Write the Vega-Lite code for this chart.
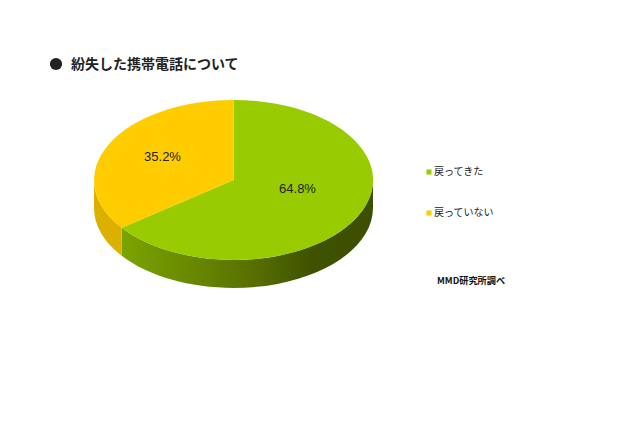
{
  "$schema": "https://vega.github.io/schema/vega-lite/v6.json",
  "description": "Lost mobile phones, 3D style pie",
  "width": 640,
  "height": 426,
  "padding": 0,
  "autosize": "none",
  "background": "white",
  "title": {
    "text": "紛失した携帯電話について",
    "anchor": "start",
    "frame": "group",
    "orient": "top",
    "baseline": "alphabetic",
    "offset": 0,
    "dx": 71,
    "dy": 83,
    "font": "Noto Sans CJK JP",
    "fontSize": 14,
    "fontWeight": "bold",
    "color": "#222222"
  },
  "data": {
    "values": [
      {"answer": "戻ってきた", "share": 64.8, "label": "64.8%"},
      {"answer": "戻っていない", "share": 35.2, "label": "35.2%"}
    ]
  },
  "encoding": {
    "x": {"datum": 233.5, "type": "quantitative", "scale": {"domain": [0, 640]}, "axis": null},
    "y": {"datum": 180, "type": "quantitative", "scale": {"domain": [426, 0]}, "axis": null},
    "color": {
      "field": "answer",
      "type": "nominal",
      "scale": {
        "domain": ["戻ってきた", "戻っていない"],
        "range": ["#99cc00", "#ffcc00"]
      },
      "legend": {
        "title": null,
        "orient": "none",
        "legendX": 424,
        "legendY": 167,
        "symbolType": "square",
        "symbolSize": 26,
        "symbolOpacity": 1,
        "labelFont": "Noto Sans CJK JP",
        "labelFontSize": 10,
        "labelColor": "#222222",
        "labelOffset": 0,
        "rowPadding": 31
      }
    }
  },
  "layer": [
    {
      "transform": [{"filter": "datum.share > 50"}],
      "mark": {
        "type": "point",
        "filled": true,
        "opacity": 1,
        "size": 4,
        "shape": "M139.5,0 A139.5,80 0 0 1 -111.8,47.8 L-111.8,75.8 A139.5,80 0 0 0 139.5,28 Z",
        "fill": {
          "gradient": "linear",
          "x1": 0, "y1": 0, "x2": 1, "y2": 0,
          "stops": [
            {"offset": 0, "color": "#7ba400"},
            {"offset": 0.5, "color": "#5a7200"},
            {"offset": 0.75, "color": "#3f5200"},
            {"offset": 1, "color": "#3d4f00"}
          ]
        }
      },
      "encoding": {"color": {"value": null}}
    },
    {
      "transform": [{"filter": "datum.share < 50"}],
      "mark": {
        "type": "point",
        "filled": true,
        "opacity": 1,
        "size": 4,
        "shape": "M-111.8,47.8 A139.5,80 0 0 1 -139.5,0 L-139.5,28 A139.5,80 0 0 0 -111.8,75.8 Z",
        "fill": "#dcb000"
      },
      "encoding": {"color": {"value": null}}
    },
    {
      "transform": [{"filter": "datum.share > 50"}],
      "mark": {
        "type": "point",
        "filled": true,
        "opacity": 1,
        "size": 4,
        "shape": "M0,0 L0,-80 A139.5,80 0 1 1 -111.8,47.8 Z"
      }
    },
    {
      "transform": [{"filter": "datum.share < 50"}],
      "mark": {
        "type": "point",
        "filled": true,
        "opacity": 1,
        "size": 4,
        "shape": "M0,0 L-111.8,47.8 A139.5,80 0 0 1 0,-80 Z"
      }
    },
    {
      "transform": [{"filter": "datum.share > 50"}],
      "mark": {"type": "text", "font": "Liberation Sans", "fontSize": 13},
      "encoding": {
        "x": {"datum": 297.5},
        "y": {"datum": 189},
        "text": {"field": "label"},
        "color": {"value": "#222222"}
      }
    },
    {
      "transform": [{"filter": "datum.share < 50"}],
      "mark": {"type": "text", "font": "Liberation Sans", "fontSize": 13},
      "encoding": {
        "x": {"datum": 162.5},
        "y": {"datum": 157},
        "text": {"field": "label"},
        "color": {"value": "#222222"}
      }
    },
    {
      "transform": [{"filter": "datum.share > 50"}],
      "mark": {"type": "point", "shape": "circle", "filled": true, "opacity": 1, "size": 150},
      "encoding": {
        "x": {"datum": 56},
        "y": {"datum": 64},
        "color": {"value": "#222222"}
      }
    },
    {
      "transform": [{"filter": "datum.share > 50"}],
      "mark": {"type": "text", "font": "Noto Sans CJK JP", "fontSize": 9.2, "fontWeight": "bold", "align": "left"},
      "encoding": {
        "x": {"datum": 437},
        "y": {"datum": 281},
        "text": {"value": "MMD研究所調べ"},
        "color": {"value": "#111111"}
      }
    }
  ],
  "config": {"view": {"stroke": null}}
}
